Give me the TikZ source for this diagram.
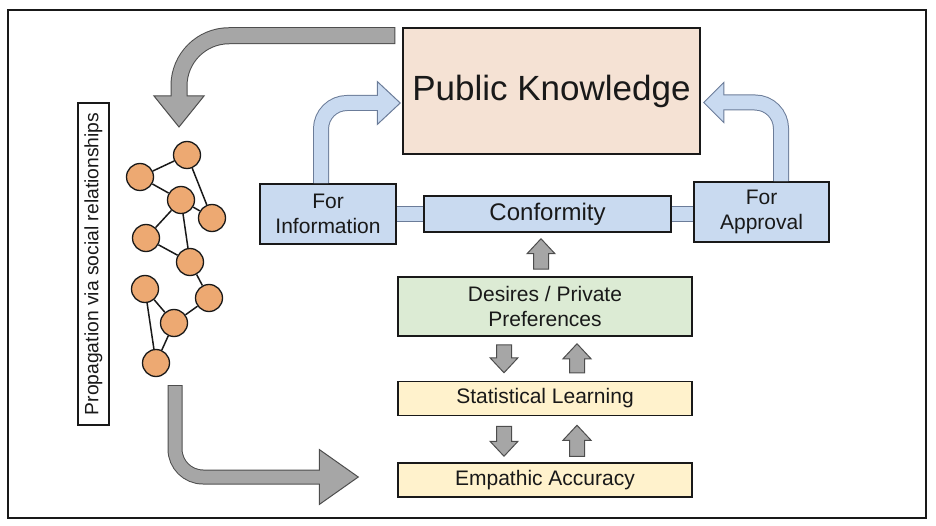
\documentclass[tikz,border=0pt]{standalone}
\usepackage{fontspec}
\setmainfont{Liberation Sans}
\usetikzlibrary{positioning, calc}

\definecolor{pkfill}{HTML}{F5E2D4}
\definecolor{bluefill}{HTML}{C9DAF0}
\definecolor{blueline}{HTML}{6B7C99}
\definecolor{greenfill}{HTML}{DCEBD4}
\definecolor{yellowfill}{HTML}{FFF2CC}
\definecolor{grayfill}{HTML}{A6A6A6}
\definecolor{grayline}{HTML}{4D4D4D}
\definecolor{personfill}{HTML}{EDA972}

% block arrows between two points on the same vertical
\newcommand{\blockup}[2]{\draw[blockarrow] let \p1=(#1), \p2=(#2) in
  ({\x1-7.5pt},\y1) -- ({\x1-7.5pt},{\y2-15pt}) -- ({\x1-14pt},{\y2-15pt}) -- (\x2,\y2)
  -- ({\x1+14pt},{\y2-15pt}) -- ({\x1+7.5pt},{\y2-15pt}) -- ({\x1+7.5pt},\y1) -- cycle;}
\newcommand{\blockdown}[2]{\draw[blockarrow] let \p1=(#1), \p2=(#2) in
  ({\x1-7.5pt},\y1) -- ({\x1-7.5pt},{\y2+15pt}) -- ({\x1-14pt},{\y2+15pt}) -- (\x2,\y2)
  -- ({\x1+14pt},{\y2+15pt}) -- ({\x1+7.5pt},{\y2+15pt}) -- ({\x1+7.5pt},\y1) -- cycle;}

\begin{document}
\begin{tikzpicture}[
    x=1pt, y=-1pt,
    box/.style={draw=black!90, line width=1.5pt, text=black!90, text centered,
    align=center, inner sep=0pt},
    pkbox/.style={box, fill=pkfill, minimum width=297pt, minimum height=126pt,
    font=\fontsize{35}{40}\selectfont},
    bluebox/.style={box, fill=bluefill, font=\fontsize{21}{25}\selectfont},
    greenbox/.style={box, fill=greenfill, font=\fontsize{21}{25}\selectfont},
    yellowbox/.style={box, fill=yellowfill, font=\fontsize{21}{25}\selectfont,
    minimum width=294pt, minimum height=34pt},
    sidetag/.style={box, fill=white, line width=1.2pt, rotate=90,
    font=\fontsize{19.3}{22}\selectfont, minimum width=322pt, minimum height=31pt},
    person/.style={draw=black!90, circle, line width=1.3pt, fill=personfill,
    minimum size=27pt, inner sep=0pt},
    link/.style={draw=black!90, line width=1.5pt},
    grayedge/.style={draw=grayline},
    grayinner/.style={draw=grayfill},
    grayhead/.style={draw=grayline, fill=grayfill, line width=1pt, line join=miter},
    blueedge/.style={draw=blueline},
    blueinner/.style={draw=bluefill},
    bluehead/.style={draw=blueline, fill=bluefill, line width=1pt, line join=miter},
    blockarrow/.style={grayhead}
    ]
    \useasboundingbox (0,0) rectangle (936,526);
    \draw[line width=2pt, black!90] (8,10) rectangle (926,518);

    \node[pkbox]     (pk)      at (551.5,91)  {Public Knowledge};
    \node[bluebox, minimum width=136pt, minimum height=60pt] (info) at (328,214)   {For\\Information};
    \node[bluebox, minimum width=247pt, minimum height=36pt,
          font=\fontsize{24}{28}\selectfont]                 (conf) at (547.5,214) {Conformity};
    \node[bluebox, minimum width=135pt, minimum height=60pt] (appr) at (761.5,212) {For\\Approval};
    \node[greenbox, minimum width=294pt, minimum height=59pt] (desires) at (545,306.5) {Desires / Private\\Preferences};
    \node[yellowbox] (stat)    at (545,398.5) {Statistical Learning};
    \node[yellowbox] (emp)     at (545,480)   {Empathic Accuracy};
    \node[sidetag]   (prop)    at (93.5,264)  {Propagation via social relationships};

    % network
    \node[person] (p1)  at (187,155) {};
    \node[person] (p2)  at (140,177) {};
    \node[person] (p3)  at (181,200) {};
    \node[person] (p4)  at (212,218) {};
    \node[person] (p5)  at (146,238) {};
    \node[person] (p6)  at (190,262) {};
    \node[person] (p7)  at (145,289) {};
    \node[person] (p8)  at (209,298) {};
    \node[person] (p9)  at (174,323) {};
    \node[person] (p10) at (156,363) {};

    \path[link]
    (p1) edge (p2)
    (p1) edge (p4)
    (p2) edge (p3)
    (p3) edge (p4)
    (p3) edge (p5)
    (p3) edge (p6)
    (p5) edge (p6)
    (p6) edge (p8)
    (p7) edge (p9)
    (p8) edge (p9)
    (p7) edge (p10)
    (p9) edge (p10)
    ;

    % bars to conformity
    \draw[blueedge, line width=16pt] (info.east) -- (conf.west);
    \draw[blueinner, line width=14pt] (info.east) -- (conf.west);
    \draw[blueedge, line width=16pt] (conf.east) -- (conf.east -| appr.west);
    \draw[blueinner, line width=14pt] (conf.east) -- (conf.east -| appr.west);

    % fat arrows
    \coordinate (g1s) at ($(pk.north west)+(-7,8.5)$);
    \coordinate (g1e) at (179,96);
    \draw[grayedge, line width=17pt, rounded corners=50pt] (g1s) -| (g1e);
    \filldraw[grayhead] ($(g1e)+(-25,0)$) -- ($(g1e)+(25,0)$) -- ($(g1e)+(0,31)$) -- cycle;
    \draw[grayinner, line width=15pt, rounded corners=50pt, shorten <=1pt] (g1s) -| ($(g1e)+(0,1.5)$);

    \coordinate (g2s) at ($(p10.south)+(19,8)$);
    \coordinate (g2e) at ($(emp.west)+(-78,-3)$);
    \draw[grayedge, line width=15pt, rounded corners=28pt] (g2s) |- (g2e);
    \filldraw[grayhead] ($(g2e)+(0,-27.5)$) -- ($(g2e)+(0,27.5)$) -- ($(g2e)+(39,0)$) -- cycle;
    \draw[grayinner, line width=13pt, rounded corners=28pt, shorten <=1pt] (g2s) |- ($(g2e)+(1.5,0)$);

    \coordinate (b1s) at ($(info.north)+(-7,0)$);
    \coordinate (b1e) at ($(pk.west)+(-25,12)$);
    \draw[blueedge, line width=16pt, rounded corners=26pt] (b1s) |- (b1e);
    \filldraw[bluehead] ($(b1e)+(0,-21.5)$) -- ($(b1e)+(0,21.5)$) -- ($(b1e)+(23,0)$) -- cycle;
    \draw[blueinner, line width=14pt, rounded corners=26pt] (b1s) |- ($(b1e)+(1.5,0)$);

    \coordinate (b2s) at ($(appr.north)+(19.5,0)$);
    \coordinate (b2e) at ($(pk.east)+(23,11.5)$);
    \draw[blueedge, line width=16pt, rounded corners=26pt] (b2s) |- (b2e);
    \filldraw[bluehead] ($(b2e)+(0,-20)$) -- ($(b2e)+(0,20)$) -- ($(b2e)+(-20,0)$) -- cycle;
    \draw[blueinner, line width=14pt, rounded corners=26pt] (b2s) |- ($(b2e)+(-1.5,0)$);

    % small arrows
    \coordinate (a1) at ($(desires.north)+(-4,-7)$);
    \coordinate (d1) at ($(desires.south)+(-41,8)$);
    \coordinate (u1) at ($(stat.north)+(32,-8)$);
    \coordinate (d2) at ($(stat.south)+(-41,10)$);
    \coordinate (u2) at ($(emp.north)+(32,-6)$);
    \blockup{a1}{$(a1 |- conf.south)+(0,6)$}
    \blockdown{d1}{$(d1 |- stat.north)+(0,-8)$}
    \blockup{u1}{$(u1 |- desires.south)+(0,7)$}
    \blockdown{d2}{$(d2 |- emp.north)+(0,-6)$}
    \blockup{u2}{$(u2 |- stat.south)+(0,9)$}
\end{tikzpicture}
\end{document}
